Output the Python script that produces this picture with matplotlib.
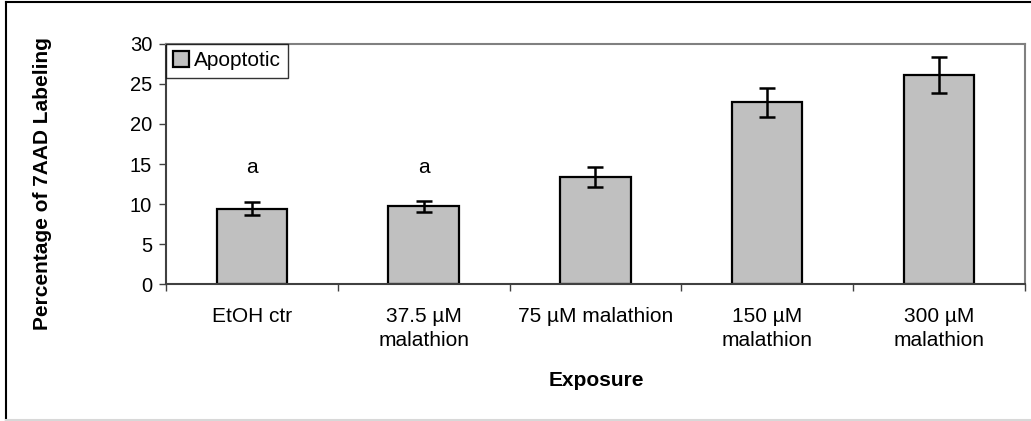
import matplotlib.pyplot as plt
from matplotlib.lines import Line2D

plt.rcParams['font.family'] = ['Liberation Sans', 'DejaVu Sans']

# data
categories = ["EtOH ctr", "37.5 µM\nmalathion", "75 µM malathion",
              "150 µM\nmalathion", "300 µM\nmalathion"]
apoptotic = [9.4, 9.7, 13.4, 22.7, 26.1]
errors = [0.8, 0.65, 1.25, 1.8, 2.25]
letters = ["a", "a", "", "", ""]
letter_y = 14.6

fig = plt.figure(figsize=(10.31, 4.21), dpi=100)
ax = fig.add_axes([0.161, 0.3254, 0.833, 0.5701])

x = list(range(len(categories)))
ax.bar(x, apoptotic, width=0.41, color="#c0c0c0", edgecolor="black",
       linewidth=1.6, label="Apoptotic", zorder=2)
ax.errorbar(x, apoptotic, yerr=errors, fmt="none", ecolor="black",
            elinewidth=1.8, capsize=5.5, capthick=1.8, zorder=3)
for xi, lab in zip(x, letters):
    if lab:
        ax.text(xi, letter_y, lab, ha="center", va="center", fontsize=15)

ax.set_xlim(-0.5, len(categories) - 0.5)
ax.set_ylim(0, 30)
ax.set_yticks(range(0, 31, 5))
ax.tick_params(axis="y", labelsize=14.5, length=5, width=1, color="#404040", pad=5)

# excel style: ticks between categories, labels centred under bars
ax.set_xticks([i - 0.5 for i in range(len(categories) + 1)])
ax.set_xticklabels([])
ax.tick_params(axis="x", length=5, width=1, color="#404040")
for xi, cat in zip(x, categories):
    ax.text(xi, -2.9, cat, ha="center", va="top", fontsize=15,
            linespacing=1.35, transform=ax.transData)

ax.spines["left"].set_color("#404040")
ax.spines["bottom"].set_color("#404040")
ax.spines["top"].set_color("#808080")
ax.spines["right"].set_color("#808080")
for s in ax.spines.values():
    s.set_linewidth(1.5)

fig.text(0.041, 0.565, "Percentage of 7AAD Labeling", rotation=90,
         ha="center", va="center", fontsize=15, fontweight="bold")
fig.text(0.578, 0.097, "Exposure", ha="center", va="center", fontsize=15,
         fontweight="bold")

leg = ax.legend(loc="upper left", bbox_to_anchor=(0, 1), fontsize=15,
                frameon=True, fancybox=False, edgecolor="black",
                borderaxespad=0, handlelength=0.75, handleheight=0.75,
                handletextpad=0.25, borderpad=0.35)
leg.get_frame().set_linewidth(1.0)

# outer chart border
fig.add_artist(Line2D([0.006, 0.006], [0.0, 0.995], color="black", lw=1.5))
fig.add_artist(Line2D([0.006, 1.0], [0.995, 0.995], color="black", lw=1.5))
fig.add_artist(Line2D([0.006, 1.0], [0.003, 0.003], color="#d8d8d8", lw=1.5))

fig.savefig("out.png", dpi=100)
